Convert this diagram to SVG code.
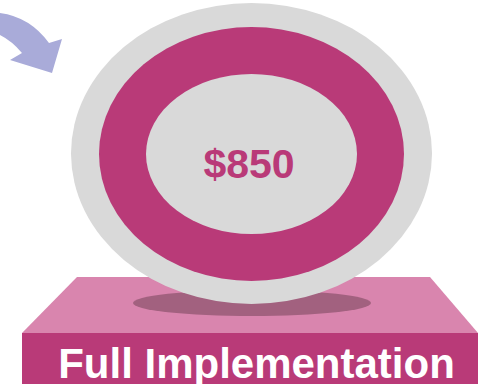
<svg xmlns="http://www.w3.org/2000/svg" width="478" height="384" viewBox="0 0 478 384">
<style>
.arrow{fill:#A9ABD9}
.gray{fill:#D9D9D9}
.pink{fill:#B93A78}
.ptop{fill:#D985AE}
.shadow{fill:#A2617F}
.val{font-family:"Liberation Sans",Arial,sans-serif;font-weight:bold;font-size:41px;fill:#B93A78;text-anchor:middle}
.lbl{font-family:"Liberation Sans",Arial,sans-serif;font-weight:bold;font-size:42px;fill:#FFFFFF;text-anchor:middle}
</style>
<g id="connectors">
<path class="arrow" d="M0,13 Q30,17 49,43 L62,39 L52,73 L10,60 L22,53 Q12,41 0,35 Z"/>
</g>
<g id="platform">
<polygon class="ptop" points="77,277 430,277 478,333 22,333"/>
<rect class="pink" x="22" y="333" width="456" height="51"/>
<ellipse class="shadow" cx="252" cy="303" rx="119" ry="13"/>
<text class="lbl" x="256.5" y="378">Full Implementation</text>
</g>
<g id="coin">
<ellipse class="gray" cx="251.5" cy="153.5" rx="180.5" ry="150.5"/>
<ellipse class="pink" cx="251.5" cy="154" rx="152.5" ry="127"/>
<ellipse class="gray" cx="251.5" cy="154" rx="105.5" ry="80"/>
<text class="val" x="249" y="178">$850</text>
</g>
</svg>
